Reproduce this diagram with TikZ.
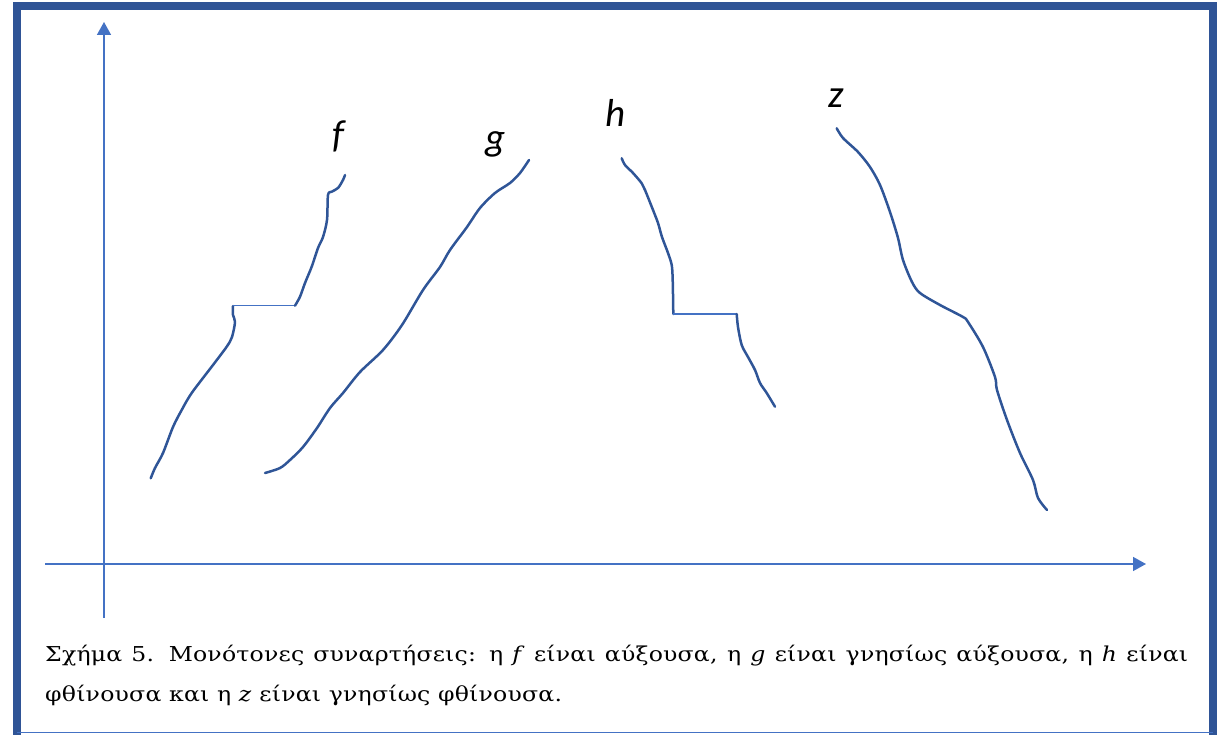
\documentclass[tikz,border=0pt]{standalone}
\usepackage{fontspec}
\setmainfont{DejaVu Serif}[FakeStretch=1.15, LetterSpace=1]
\newfontfamily\labelfont{Carlito}
\usetikzlibrary{arrows.meta}
\definecolor{framecol}{HTML}{2F5496}
\definecolor{axiscol}{HTML}{4472C4}
\definecolor{curvecol}{HTML}{2F5597}
\tikzset{
    axis/.style={draw=axiscol, line width=1.5pt, -{Triangle[length=13pt, width=14pt]}},
    curve/.style={draw=curvecol, line width=2.5pt, line cap=round, line join=round},
    flat/.style={draw=axiscol, line width=1.6pt},
    fname/.style={font=\labelfont\itshape\fontsize{39}{42}\selectfont, anchor=base, inner sep=0pt},
    caption/.style={font=\fontsize{20.5}{40}\selectfont, anchor=base west, inner sep=0pt}
}
\begin{document}
\begin{tikzpicture}[x=1pt, y=-1pt]
    \useasboundingbox (0,0) rectangle (1223,735);
    \draw[framecol, line width=8pt] (17,735) -- (17,6.5) -- (1213,6.5) -- (1213,735);
    \draw[axiscol, line width=1.5pt] (17,732.5) -- (1213,732.5);
    \coordinate (xstart) at (45,564);
    \coordinate (xend) at (1146,564);
    \coordinate (ystart) at (104,618);
    \coordinate (yend) at (104,22);
    \draw[axis] (xstart) -- (xend);
    \draw[axis] (ystart) -- (yend);
    \draw[curve] plot[smooth, tension=0.5] coordinates {(150.7,478.3) (155,468) (163,453) (173,427) (181.7,410) (191.7,393) (213,365) (226.7,346.7) (232,337) (235,322) (233,315) (233,306)};
    \draw[flat] (233,305.5) -- (295,305.5);
    \draw[curve] plot[smooth, tension=0.5] coordinates {(295,305.7) (300,296.7) (305,283) (311.7,266.7) (318,248) (323,237) (327,220) (328,195) (331.7,191.7) (338,188) (343,180) (345,175)};
    \draw[curve] plot[smooth] coordinates {(265,473) (280,468) (290,460) (303,447) (317,428) (330,408) (343,393) (360,372) (383,350) (402,325) (423,290) (440,267) (450,250) (467,227) (480,208) (495,193) (510,183) (520,173) (529,160)};
    \draw[curve] plot[smooth, tension=0.5] coordinates {(621.7,158.3) (625,165) (633,173) (641.7,183.3) (645,190) (653,210) (658,223) (662,237) (668,253) (671.7,265) (672.7,280) (673.3,314)};
    \draw[flat] (673.3,314) -- (736.7,314);
    \draw[curve] plot[smooth, tension=0.5] coordinates {(736.7,314) (738,327) (741.7,345) (748,357) (755,370) (760,383) (766.7,393) (775,406.7)};
    \draw[curve] plot[smooth] coordinates {(836.7,128.3) (843,138) (858,152) (870,167) (880,185) (890,212) (898,238) (903,260) (912,282) (920,293) (940,305) (963,317) (968,322) (983,347) (995,377) (997,390) (1007,420) (1020,453) (1033,480) (1038,498) (1047,510)};
    \node[fname] (flabel) at (338,148) {f};
    \node[fname] (glabel) at (496,151) {g};
    \node[fname] (hlabel) at (616,127) {h};
    \node[fname] (zlabel) at (836,108) {z};
    \node[caption] (capone) at (45,661) {\makebox[1143pt][s]{Σχήμα 5. Μονότονες συναρτήσεις: η \textit{f} είναι αύξουσα, η \textit{g} είναι γνησίως αύξουσα, η \textit{h} είναι}};
    \node[caption] (captwo) at (45,701) {φθίνουσα και η \textit{z} είναι γνησίως φθίνουσα.};
\end{tikzpicture}
\end{document}
